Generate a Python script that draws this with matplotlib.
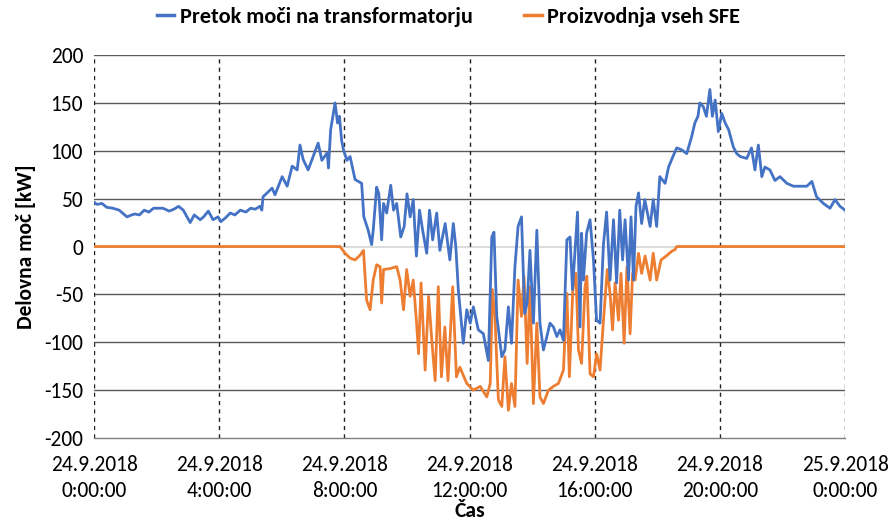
import matplotlib
matplotlib.use("Agg")
import matplotlib.pyplot as plt
from matplotlib import font_manager

# ---------------- data (hours since 24.9.2018 0:00, kW) ----------------
t_pretok = [0.0, 0.1, 0.25, 0.4, 0.6, 0.8, 1.05, 1.2, 1.3, 1.45, 1.6, 1.75, 1.9, 2.2,
            2.4, 2.55, 2.7, 2.85, 3.07, 3.2, 3.39, 3.5, 3.65, 3.8, 3.96, 4.05, 4.2,
            4.35, 4.5, 4.67, 4.85, 5.0, 5.15, 5.3, 5.36, 5.40, 5.69, 5.78, 6.01, 6.17,
            6.33, 6.49, 6.58, 6.68, 6.84, 7.0, 7.16, 7.28, 7.45, 7.49, 7.56, 7.70,
            7.78, 7.84, 7.91, 7.97, 8.08, 8.18, 8.34, 8.55, 8.62, 8.76, 8.87, 8.92,
            9.03, 9.10, 9.19, 9.25, 9.35, 9.48, 9.57, 9.67, 9.80, 9.91, 10.0, 10.1,
            10.2, 10.3, 10.4, 10.5, 10.63, 10.72, 10.82, 10.95, 11.05, 11.22, 11.37,
            11.48, 11.56, 11.64, 11.80, 11.91, 12.02, 12.12, 12.28, 12.44, 12.60,
            12.71, 12.78, 12.87, 13.03, 13.13, 13.24, 13.34, 13.45, 13.55, 13.66,
            13.76, 13.84, 13.93, 14.04, 14.15, 14.25, 14.36, 14.47, 14.57, 14.68,
            14.79, 14.89, 15.0, 15.11, 15.21, 15.29, 15.37, 15.45, 15.53, 15.58,
            15.64, 15.74, 15.85, 15.96, 16.06, 16.17, 16.28, 16.38, 16.49, 16.60,
            16.70, 16.80, 16.89, 16.97, 17.08, 17.16, 17.24, 17.32, 17.40, 17.50,
            17.60, 17.77, 17.87, 17.98, 18.08, 18.25, 18.36, 18.50, 18.62, 18.78,
            18.94, 19.10, 19.20, 19.30, 19.36, 19.47, 19.57, 19.68, 19.76, 19.85,
            19.95, 20.06, 20.17, 20.28, 20.43, 20.54, 20.65, 20.86, 21.01, 21.12,
            21.23, 21.34, 21.44, 21.60, 21.76, 21.92, 22.14, 22.35, 22.56, 22.78,
            22.94, 23.09, 23.31, 23.52, 23.68, 23.84, 24.0]
pretok = [46, 44, 45, 41, 40, 38, 31, 33, 34, 33, 38, 36, 40, 40,
          37, 39, 42, 38, 25, 33, 28, 31, 37, 28, 31, 26, 30,
          35, 33, 38, 36, 40, 39, 42, 38, 52, 61, 54, 73, 63,
          84, 80, 106, 91, 80, 94, 108, 90, 98, 82, 122, 150,
          129, 136, 111, 101, 90, 94, 70, 66, 31, 17, 2, 17,
          62, 55, 7, 45, 35, 64, 38, 45, 10, 21, 55, 31,
          49, -10, 38, 17, -7, 38, 7, 35, -4, 24, -14,
          24, 0, -45, -101, -66, -80, -63, -87, -91, -119,
          10, 15, -73, -115, -108, -63, -101, -21, 21, 31,
          -70, -59, -4, -80, 17, -80, -108, -94, -80, -84,
          -94, -87, -98, 7, 10, -45, -4, 36, -84, 14,
          -35, 14, 28, -14, -77, -80, 3, 36, -35, 28,
          -38, 38, -14, 28, -35, 31, -35, 42, 56, 24,
          49, 21, 49, 21, 73, 66, 83, 94, 103, 101,
          97, 115, 129, 136, 150, 146, 136, 164, 136, 153,
          120, 139, 129, 122, 104, 97, 94, 92, 103, 80,
          106, 73, 83, 80, 69, 73, 66, 63, 63, 63,
          68, 52, 45, 40, 49, 42, 38]

t_sfe = [0.0, 7.86, 8.02, 8.18, 8.34, 8.50, 8.61, 8.66, 8.71, 8.82, 8.92, 9.03,
         9.14, 9.19, 9.25, 9.46, 9.67, 9.78, 9.89, 9.99, 10.1, 10.2, 10.3, 10.37,
         10.45, 10.58, 10.69, 10.80, 10.90, 11.0, 11.1, 11.21, 11.31, 11.46,
         11.58, 11.69, 11.91, 12.12, 12.34, 12.55, 12.66, 12.73, 12.81, 12.92,
         13.03, 13.13, 13.24, 13.34, 13.45, 13.55, 13.66, 13.74, 13.84, 13.93,
         14.04, 14.15, 14.25, 14.36, 14.52, 14.68, 14.84, 15.0, 15.11, 15.19,
         15.30, 15.40, 15.48, 15.58, 15.69, 15.75, 15.85, 15.96, 16.06, 16.17,
         16.28, 16.40, 16.49, 16.57, 16.65, 16.76, 16.84, 16.94, 17.03, 17.13,
         17.21, 17.29, 17.40, 17.50, 17.61, 17.77, 17.87, 17.98, 18.12, 18.28,
         18.46, 18.57, 18.62, 24.0]
sfe = [0, 0, -7, -12, -14, -9, -4, -31, -56, -66, -35, -19,
       -21, -59, -24, -23, -21, -35, -66, -24, -52, -35, -77, -112,
       -38, -129, -52, -101, -140, -42, -136, -84, -140, -42,
       -136, -126, -143, -150, -146, -157, -143, -45, -73, -160,
       -167, -115, -171, -143, -167, -35, -73, -31, -122, -42,
       -164, -80, -157, -164, -150, -146, -143, -129, -49, -136,
       -45, -28, -108, -122, -42, -31, -133, -136, -112, -129,
       -77, -24, -49, -87, -38, -77, -28, -101, -21, -91,
       -28, -35, -7, -28, -10, -35, -7, -35, -14, -10,
       -5, -3, 0, 0]

x_ticks = [0, 4, 8, 12, 16, 20, 24]
x_ticklabels = ["24.9.2018\n0:00:00", "24.9.2018\n4:00:00", "24.9.2018\n8:00:00",
                "24.9.2018\n12:00:00", "24.9.2018\n16:00:00", "24.9.2018\n20:00:00",
                "25.9.2018\n0:00:00"]
y_ticks = [-200, -150, -100, -50, 0, 50, 100, 150, 200]

# ---------------- style ----------------
names = {f.name for f in font_manager.fontManager.ttflist}
fam = "DejaVu Sans"
for cand in ["Carlito", "Liberation Sans Narrow", "Liberation Sans"]:
    if cand in names:
        fam = cand
        break
plt.rcParams["font.family"] = [fam, "DejaVu Sans"]

FS = 15.5

fig = plt.figure(figsize=(8.88, 5.24), dpi=100)
ax = fig.add_axes([0.106, 0.164, 0.8456, 0.731])

ax.set_xlim(0, 24)
ax.set_ylim(-200, 200)

for y in y_ticks:
    if y == 0:
        ax.axhline(y, color="#d9d9d9", lw=1.3, zorder=1)
    elif y != -200:
        ax.axhline(y, color="#5a5a5a", lw=1.0, zorder=1)
for x in x_ticks:
    ax.axvline(x, color="#222222", lw=1.0, ls=(0, (3, 3)), zorder=1)

blue_line, = ax.plot(t_pretok, pretok, color="#4472C4", lw=2.0, zorder=3,
                     label="Pretok moči na transformatorju")
orange_line, = ax.plot(t_sfe, sfe, color="#ED7D31", lw=2.0, zorder=2,
                       label="Proizvodnja vseh SFE")

for s in ["top", "left", "right"]:
    ax.spines[s].set_visible(False)
ax.spines["bottom"].set_color("#7f7f7f")
ax.spines["bottom"].set_linewidth(1.0)

ax.set_xticks(x_ticks)
ax.set_xticklabels(x_ticklabels, fontsize=FS, linespacing=1.4)
ax.set_yticks(y_ticks)
ax.set_yticklabels([str(v) for v in y_ticks], fontsize=FS)
ax.tick_params(axis="both", length=0, colors="#000000")
ax.tick_params(axis="y", pad=8)
ax.tick_params(axis="x", pad=12)

ax.set_ylabel("Delovna moč [kW]", fontsize=FS, fontweight="bold", labelpad=6)
ax.set_xlabel("Čas", fontsize=FS, fontweight="bold", labelpad=0)

leg = fig.legend(handles=[blue_line, orange_line], loc="upper center",
                 bbox_to_anchor=(0.505, 1.025), ncol=2, frameon=False,
                 prop={"family": [fam, "DejaVu Sans"], "size": 16, "weight": "bold"},
                 handlelength=0.8, handletextpad=0.25, columnspacing=2.3)
for h in leg.legend_handles:
    h.set_linewidth(2.5)

fig.savefig("out.png", dpi=100)
